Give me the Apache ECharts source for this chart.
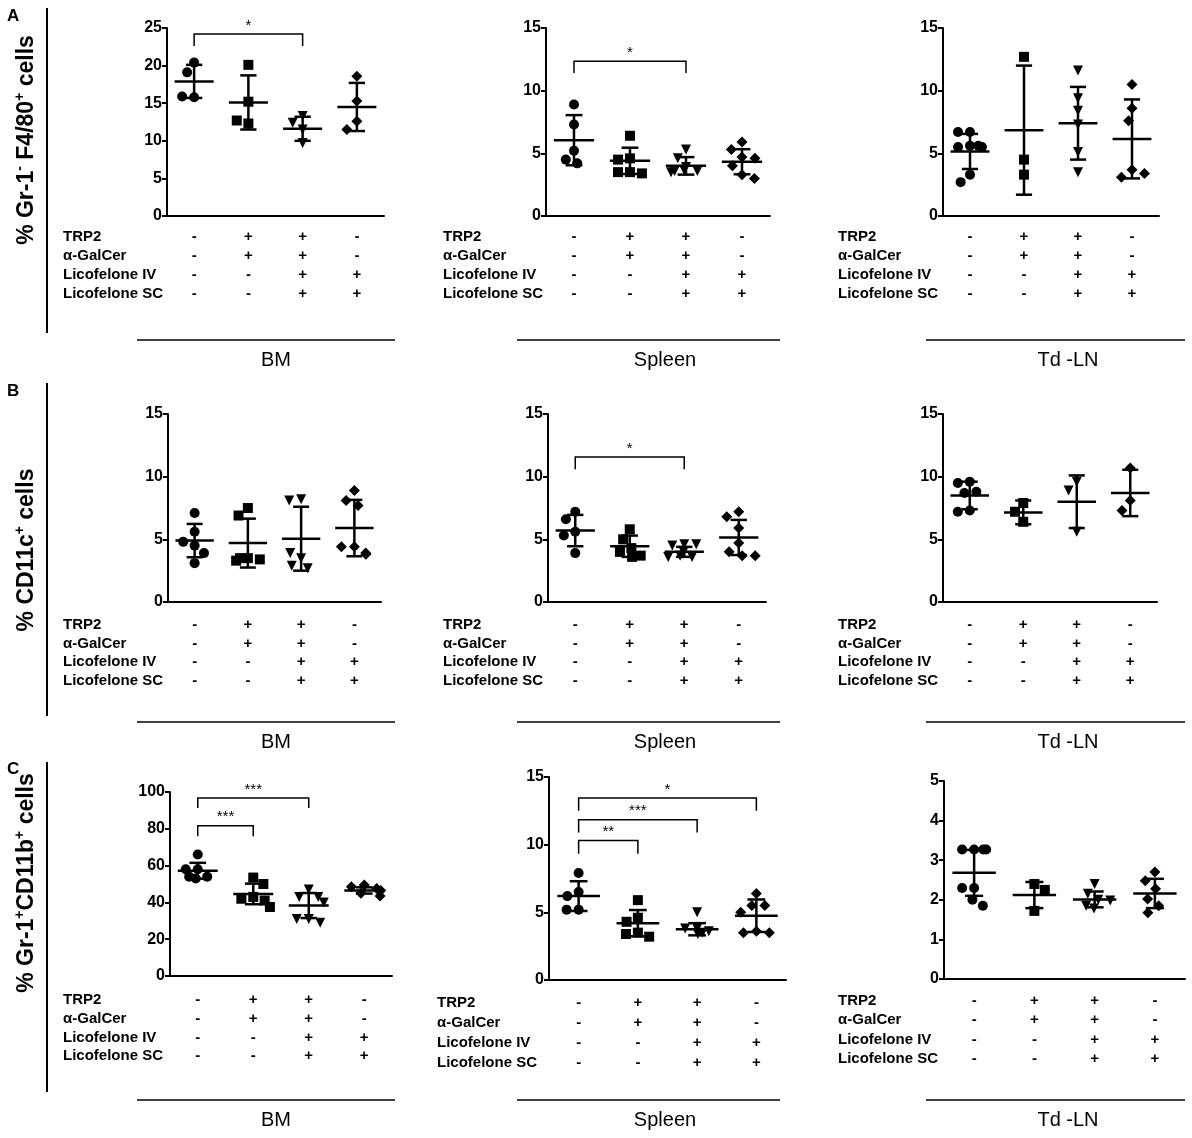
<!DOCTYPE html>
<html>
<head>
<meta charset="utf-8">
<script src="https://cdn.jsdelivr.net/npm/echarts@6/dist/echarts.min.js"></script>
<style>
  body { margin: 0; background: #fff; }
  #main { width: 1192px; height: 1138px; }
</style>
</head>
<body>
<div id="main"></div>
<script>
// groups and treatment table
var categories = ['ctrl', 'TRP2+GalCer', 'all', 'Lico'];
var treatments = ['TRP2', 'α-GalCer', 'Licofelone IV', 'Licofelone SC'];
var signTRP2 = ['-', '+', '+', '-'];
var signGalCer = ['-', '+', '+', '-'];
var signLicoIV = ['-', '-', '+', '+'];
var signLicoSC = ['-', '-', '+', '+'];
var tissues = ['BM', 'Spleen', 'Td -LN'];
var symbols = ['circle', 'rect', 'triangle', 'diamond'];

// A: % Gr-1- F4/80+
var aBmPoints = [[20.4, 19.1, 15.8, 15.9], [20.1, 15.2, 12.3, 12.7], [13.3, 12.4, 11.5, 9.7], [18.6, 15.3, 12.6, 11.5]];
var aBmMean = [17.9, 15.1, 11.6, 14.5];
var aBmSd = [2.2, 3.6, 1.6, 3.2];
var aSpPoints = [[8.9, 7.3, 5.2, 4.5, 4.2], [6.4, 4.6, 4.5, 3.5, 3.5, 3.4], [5.3, 4.6, 3.9, 3.6, 3.6, 3.7, 3.5], [5.9, 5.3, 4.7, 4.6, 4.0, 3.3, 3.0]];
var aSpMean = [6.05, 4.4, 4.0, 4.33];
var aSpSd = [2.0, 1.05, 0.7, 1.0];
var aTdPoints = [[6.7, 6.7, 5.6, 5.5, 5.5, 5.6, 3.3, 2.7], [12.7, 4.5, 3.3], [11.6, 9.4, 8.4, 7.3, 5.1, 3.5], [10.5, 8.6, 7.6, 3.7, 3.1, 3.4]];
var aTdMean = [5.15, 6.85, 7.4, 6.15];
var aTdSd = [1.4, 5.15, 2.9, 3.15];

// B: % CD11c+
var bBmPoints = [[7.1, 5.6, 4.5, 4.8, 3.9, 3.1], [7.5, 6.9, 3.5, 3.3, 3.4, 3.5], [8.2, 8.1, 3.5, 3.9, 2.9, 2.7], [8.9, 8.1, 7.7, 4.4, 4.4, 3.9, 3.8]];
var bBmMean = [4.9, 4.7, 5.05, 5.9];
var bBmSd = [1.33, 1.95, 2.55, 2.25];
var bSpPoints = [[7.2, 6.6, 5.6, 5.3, 3.9], [5.8, 5.0, 4.3, 4.0, 3.7, 3.6], [4.6, 4.5, 4.6, 4.0, 3.7, 3.6, 3.6], [7.2, 6.8, 5.9, 4.7, 4.0, 3.7, 3.7]];
var bSpMean = [5.7, 4.45, 4.0, 5.15];
var bSpSd = [1.25, 0.85, 0.4, 1.4];
var bTdPoints = [[9.6, 9.5, 8.8, 8.7, 7.3, 7.2], [7.9, 7.2, 6.4], [9.6, 8.9, 5.6], [10.7, 8.1, 7.3]];
var bTdMean = [8.5, 7.15, 8.0, 8.7];
var bTdSd = [1.1, 0.95, 2.1, 1.85];

// C: % Gr-1+CD11b+
var cBmPoints = [[66, 58, 58, 54, 53, 54], [53.5, 50, 43, 42, 41, 37.5], [47, 43, 43, 40, 31, 31, 29], [49.5, 48.5, 47.5, 46.5, 45, 43.5]];
var cBmMean = [57.2, 44.6, 38.3, 46.5];
var cBmSd = [4.3, 5.6, 6.8, 1.7];
var cSpPoints = [[7.9, 6.5, 6.2, 5.2, 5.2], [5.9, 4.6, 4.3, 3.5, 3.4, 3.2], [5.0, 3.8, 3.8, 3.6, 3.5, 3.4], [6.4, 5.5, 5.5, 5.0, 3.6, 3.5, 3.5]];
var cSpMean = [6.2, 4.2, 3.75, 4.75];
var cSpSd = [1.1, 0.97, 0.45, 1.2];
var cTdPoints = [[3.27, 3.27, 3.27, 3.27, 2.3, 2.3, 2.0, 1.85], [2.4, 2.25, 1.72], [2.4, 2.15, 2.0, 1.98, 1.85, 1.78], [2.7, 2.48, 2.28, 2.02, 1.85, 1.67]];
var cTdMean = [2.68, 2.12, 2.01, 2.16];
var cTdSd = [0.58, 0.33, 0.2, 0.37];

// significance brackets: [from group, to group, top value, tip value]
var aBmBrackets = [[0, 2, 24.2, 22.6]];
var aBmStars = ['*'];
var aSpBrackets = [[0, 2, 12.35, 11.4]];
var aSpStars = ['*'];
var bSpBrackets = [[0, 2, 11.57, 10.6]];
var bSpStars = ['*'];
var cBmBrackets = [[0, 2, 96.7, 91.3], [0, 1, 81.7, 75.9]];
var cBmStars = ['***', '***'];
var cSpBrackets = [[0, 3, 13.45, 12.5], [0, 2, 11.85, 10.9], [0, 1, 10.3, 9.33]];
var cSpStars = ['*', '***', '**'];

// y axis ranges
var yMax = [25, 15, 15, 15, 15, 15, 100, 15, 5];
var yStep = [5, 5, 5, 5, 5, 5, 20, 5, 1];

var panels = [
  {pts: aBmPoints, mean: aBmMean, sd: aBmSd, br: aBmBrackets, stars: aBmStars, box: [167, 384, 28, 216], lx: 63, gap: 19, off: 20},
  {pts: aSpPoints, mean: aSpMean, sd: aSpSd, br: aSpBrackets, stars: aSpStars, box: [546, 770, 28, 216], lx: 443, gap: 19, off: 20},
  {pts: aTdPoints, mean: aTdMean, sd: aTdSd, br: [], stars: [], box: [943, 1159, 28, 216], lx: 838, gap: 19, off: 20},
  {pts: bBmPoints, mean: bBmMean, sd: bBmSd, br: [], stars: [], box: [168, 381, 414, 602], lx: 63, gap: 18.5, off: 22},
  {pts: bSpPoints, mean: bSpMean, sd: bSpSd, br: bSpBrackets, stars: bSpStars, box: [548, 766, 414, 602], lx: 443, gap: 18.5, off: 22},
  {pts: bTdPoints, mean: bTdMean, sd: bTdSd, br: [], stars: [], box: [943, 1157, 414, 602], lx: 838, gap: 18.5, off: 22},
  {pts: cBmPoints, mean: cBmMean, sd: cBmSd, br: cBmBrackets, stars: cBmStars, box: [170, 392, 792, 976], lx: 63, gap: 18.7, off: 23},
  {pts: cSpPoints, mean: cSpMean, sd: cSpSd, br: cSpBrackets, stars: cSpStars, box: [549, 786, 777, 980], lx: 437, gap: 20, off: 22},
  {pts: cTdPoints, mean: cTdMean, sd: cTdSd, br: [], stars: [], box: [944, 1185, 781, 979], lx: 838, gap: 19.3, off: 21}
];

var FONT = 'Liberation Sans, Arial, sans-serif';
var grids = [], xAxes = [], yAxes = [], series = [], graphics = [];

panels.forEach(function (p, i) {
  grids.push({left: p.box[0], top: p.box[2], width: p.box[1] - p.box[0], height: p.box[3] - p.box[2]});
  xAxes.push({
    gridIndex: i, type: 'category', data: categories, boundaryGap: true,
    jitter: 34, jitterOverlap: false, jitterMargin: 2,
    axisLine: {lineStyle: {color: '#000', width: 2}},
    axisTick: {alignWithLabel: true, length: 5, lineStyle: {color: '#000', width: 2}},
    axisLabel: {
      interval: 0, margin: p.off - p.gap / 2 + 1, lineHeight: p.gap,
      fontSize: 15, fontWeight: 'bold', color: '#000', fontFamily: FONT,
      formatter: function (v, idx) {
        return [signTRP2[idx], signGalCer[idx], signLicoIV[idx], signLicoSC[idx]].join('\n');
      }
    }
  });
  yAxes.push({
    gridIndex: i, type: 'value', min: 0, max: yMax[i], interval: yStep[i],
    axisLine: {show: true, lineStyle: {color: '#000', width: 2}},
    axisTick: {show: true, length: 5, lineStyle: {color: '#000', width: 2}},
    splitLine: {show: false},
    axisLabel: {fontSize: 16, fontWeight: 'bold', color: '#000', fontFamily: FONT, margin: 5}
  });

  p.pts.forEach(function (vals, g) {
    series.push({
      type: 'scatter', xAxisIndex: i, yAxisIndex: i,
      symbol: symbols[g], symbolSize: g === 3 ? 11 : 10, symbolRotate: g === 2 ? 180 : 0,
      itemStyle: {color: '#000', opacity: 1}, z: 2, silent: true,
      data: vals.map(function (v) { return [g, v]; })
    });
  });

  // mean and SD
  series.push({
    type: 'custom', xAxisIndex: i, yAxisIndex: i, z: 3, silent: true,
    data: p.mean.map(function (m, g) { return [g, m, p.sd[g]]; }),
    renderItem: function (params, api) {
      var x = api.value(0), m = api.value(1), s = api.value(2);
      var c = api.coord([x, m]);
      var t = api.coord([x, m + s]);
      var b = api.coord([x, m - s]);
      var band = api.size([1, 0])[0];
      var hw = band * 0.36, cw = band * 0.15;
      var st = {stroke: '#000', lineWidth: 2.5};
      return {type: 'group', children: [
        {type: 'line', shape: {x1: c[0] - hw, y1: c[1], x2: c[0] + hw, y2: c[1]}, style: st},
        {type: 'line', shape: {x1: c[0], y1: t[1], x2: c[0], y2: b[1]}, style: st},
        {type: 'line', shape: {x1: c[0] - cw, y1: t[1], x2: c[0] + cw, y2: t[1]}, style: st},
        {type: 'line', shape: {x1: c[0] - cw, y1: b[1], x2: c[0] + cw, y2: b[1]}, style: st}
      ]};
    }
  });

  if (p.br.length) {
    var stars = p.stars;
    series.push({
      type: 'custom', xAxisIndex: i, yAxisIndex: i, z: 3, silent: true, clip: false,
      data: p.br,
      renderItem: function (params, api) {
        var a = api.coord([api.value(0), api.value(2)]);
        var b = api.coord([api.value(1), api.value(2)]);
        var tip = api.coord([api.value(0), api.value(3)])[1];
        return {type: 'group', children: [
          {type: 'polyline', shape: {points: [[a[0], tip], [a[0], a[1]], [b[0], b[1]], [b[0], tip]]},
           style: {stroke: '#000', lineWidth: 1.5, fill: null}},
          {type: 'text', style: {text: stars[params.dataIndex], x: (a[0] + b[0]) / 2, y: a[1] - 1,
           align: 'center', verticalAlign: 'bottom', fontSize: 15, fontFamily: FONT, fill: '#000'}}
        ]};
      }
    });
  }

  // treatment row names
  graphics.push({
    type: 'text', left: p.lx, top: p.box[3] + p.off - p.gap / 2 + 1,
    style: {text: treatments.join('\n'), lineHeight: p.gap, fontSize: 15, fontWeight: 'bold',
            fontFamily: FONT, fill: '#000'}
  });
});

// panel frames, letters, y titles, tissue labels
var rowLine = [340, 722, 1100];
var rowText = [360, 742, 1120];
var vLines = [[8, 333], [383, 716], [762, 1092]];
var letters = ['A', 'B', 'C'];
var letterY = [8, 383, 761];
var titleY = [140, 550, 883];
var titles = [
  '% Gr-1{sup|-} F4/80{sup|+} cells',
  '% CD11c{sup|+} cells',
  '% Gr-1{sup|+}CD11b{sup|+} cells'
];
var tissueLine = [[137, 395], [517, 780], [926, 1185]];
var tissueCenter = [276, 665, 1068];

for (var r = 0; r < 3; r++) {
  graphics.push({type: 'text', left: 7, top: letterY[r],
    style: {text: letters[r], fontSize: 17, fontWeight: 'bold', fontFamily: FONT, fill: '#000'}});
  graphics.push({type: 'line', shape: {x1: 47, y1: vLines[r][0], x2: 47, y2: vLines[r][1]},
    style: {stroke: '#000', lineWidth: 2}});
  graphics.push({type: 'text', x: 27, y: titleY[r], rotation: Math.PI / 2,
    style: {text: titles[r], align: 'center', verticalAlign: 'middle', fontSize: 23, fontWeight: 'bold',
      fontFamily: FONT, fill: '#000', lineHeight: 28,
      rich: {sup: {fontSize: 14, fontWeight: 'bold', fontFamily: FONT, verticalAlign: 'top', fill: '#000'}}}});
  for (var t = 0; t < 3; t++) {
    graphics.push({type: 'line', shape: {x1: tissueLine[t][0], y1: rowLine[r], x2: tissueLine[t][1], y2: rowLine[r]},
      style: {stroke: '#000', lineWidth: 1.5}});
    graphics.push({type: 'text', x: tissueCenter[t], y: rowText[r],
      style: {text: tissues[t], align: 'center', verticalAlign: 'middle', fontSize: 20,
        fontFamily: FONT, fill: '#000'}});
  }
}

var chart = echarts.init(document.getElementById('main'));
chart.setOption({
  animation: false,
  backgroundColor: '#fff',
  textStyle: {fontFamily: FONT},
  grid: grids,
  xAxis: xAxes,
  yAxis: yAxes,
  series: series,
  graphic: graphics
});
</script>
</body>
</html>
